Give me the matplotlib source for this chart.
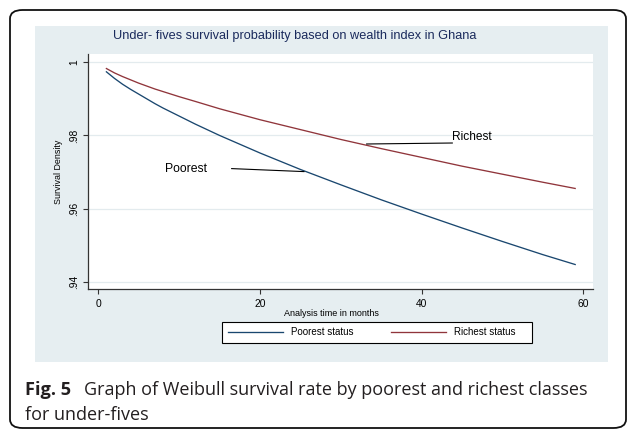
import matplotlib
matplotlib.use("Agg")
import matplotlib.pyplot as plt
from matplotlib.patches import FancyBboxPatch, Rectangle
from matplotlib.lines import Line2D

# values
months = [1, 2, 3, 4, 5, 6, 7, 8, 10, 12, 15, 20, 25, 30, 35, 40, 45, 50, 55, 59]
poorest = [0.9974, 0.9956, 0.9940, 0.9926, 0.9913, 0.9900, 0.9887, 0.9875,
           0.9853, 0.9831, 0.9800, 0.9752, 0.9707, 0.9665, 0.9624, 0.9585,
           0.9547, 0.9510, 0.9474, 0.9447]
richest = [0.9983, 0.9971, 0.9961, 0.9952, 0.9943, 0.9935, 0.9927, 0.9920,
           0.9906, 0.9893, 0.9873, 0.9843, 0.9816, 0.9789, 0.9764, 0.9740,
           0.9716, 0.9694, 0.9672, 0.9655]
xticks = [0, 20, 40, 60]
yticks = [0.94, 0.96, 0.98, 1.0]
ytick_labels = [".94", ".96", ".98", "1"]
series_names = ["Poorest status", "Richest status"]

W, H = 629, 432
NAVY = "#1a476f"
MAROON = "#90353b"
BG = "#e6eef1"
GRID = "#e3ebee"
STATA_FONT = "Liberation Sans"


def fx(px):
    return px / W


def fy(py):
    return 1 - py / H


fig = plt.figure(figsize=(W / 100, H / 100), dpi=100)
fig.patch.set_facecolor("white")

# rounded frame around the figure + caption
fig.patches.append(FancyBboxPatch((fx(10), fy(428)), fx(616), fy(10) - fy(428),
                                  boxstyle="round,pad=0,rounding_size=0.02",
                                  transform=fig.transFigure, facecolor="none",
                                  edgecolor="#111111", linewidth=1.3, zorder=0))
# stata graph region
fig.patches.append(Rectangle((fx(35), fy(362)), fx(608 - 35), fy(26) - fy(362),
                             transform=fig.transFigure, facecolor=BG,
                             edgecolor="none", zorder=0))
# legend frame
fig.patches.append(Rectangle((fx(222.3), fy(342.7)), fx(310), fy(321.7) - fy(342.7),
                             transform=fig.transFigure, facecolor="white",
                             edgecolor="black", linewidth=0.8, zorder=1))

ax = fig.add_axes([fx(88.3), fy(289.3), fx(592.7 - 88.3), fy(54.3) - fy(289.3)])
ax.set_zorder(3)
ax.set_facecolor("white")
ax.plot(months, poorest, color=NAVY, lw=0.95)
ax.plot(months, richest, color=MAROON, lw=0.95)

ax.set_xlim(-1.24, 61.17)
ax.set_ylim(0.93792, 1.00219)
ax.set_xticks(xticks)
ax.set_xticklabels([str(t) for t in xticks], fontsize=7.4, family=STATA_FONT)
ax.set_yticks(yticks)
ax.set_yticklabels(ytick_labels, fontsize=7.4, family=STATA_FONT,
                   rotation=90, va="center")
ax.tick_params(axis="x", length=3.5, width=0.8, pad=3.5, color="#333333")
ax.tick_params(axis="y", length=3.8, width=0.8, pad=2.5, color="#333333")
ax.grid(axis="y", color=GRID, lw=0.9)
ax.set_axisbelow(True)
for side in ["top", "right"]:
    ax.spines[side].set_visible(False)
for side in ["left", "bottom"]:
    ax.spines[side].set_color("#333333")
    ax.spines[side].set_linewidth(0.9)

# labels pointing to curves
ax.plot([16.5, 25.45], [0.97093, 0.97011], color="black", lw=0.8)
ax.text(8.2, 0.97093, "Poorest", fontsize=8.8, family=STATA_FONT,
        va="center", ha="left")
ax.plot([33.2, 43.8], [0.97766, 0.97793], color="black", lw=0.8)
ax.text(43.8, 0.97793, "Richest", fontsize=8.6, family=STATA_FONT,
        va="bottom", ha="left")

fig.text(fx(112.7), fy(35.5), "Under- fives survival probability based on wealth index in Ghana",
         fontsize=9.15, family=STATA_FONT, color="#1a2a5c", va="center", ha="left")
fig.text(fx(58.3), fy(171.7), "Survival Density", fontsize=6.4, family=STATA_FONT,
         rotation=90, va="center", ha="center")
fig.text(fx(331), fy(313.3), "Analysis time in months", fontsize=6.5,
         family=STATA_FONT, va="center", ha="center")

handles = [Line2D([], [], color=NAVY, lw=0.95), Line2D([], [], color=MAROON, lw=0.95)]
leg = fig.legend(handles, series_names, loc="center left", ncol=2,
                 bbox_to_anchor=(fx(222.3), fy(332.2)),
                 bbox_transform=fig.transFigure, prop={"family": STATA_FONT, "size": 7},
                 handlelength=5.65, handletextpad=0.8, columnspacing=3.9,
                 borderpad=0.0, borderaxespad=0.6, frameon=False)
leg.set_zorder(4)

# caption
fig.text(fx(25), fy(395), "Fig. 5", fontsize=13.1, family="Open Sans",
         weight="bold", color="#231f20", va="baseline")
fig.text(fx(84.5), fy(395), "Graph of Weibull survival rate by poorest and richest classes",
         fontsize=13.0, family="Open Sans", color="#231f20", va="baseline")
fig.text(fx(25), fy(420), "for under-fives", fontsize=13.0, family="Open Sans",
         color="#231f20", va="baseline")

fig.savefig("out.png", dpi=100)
